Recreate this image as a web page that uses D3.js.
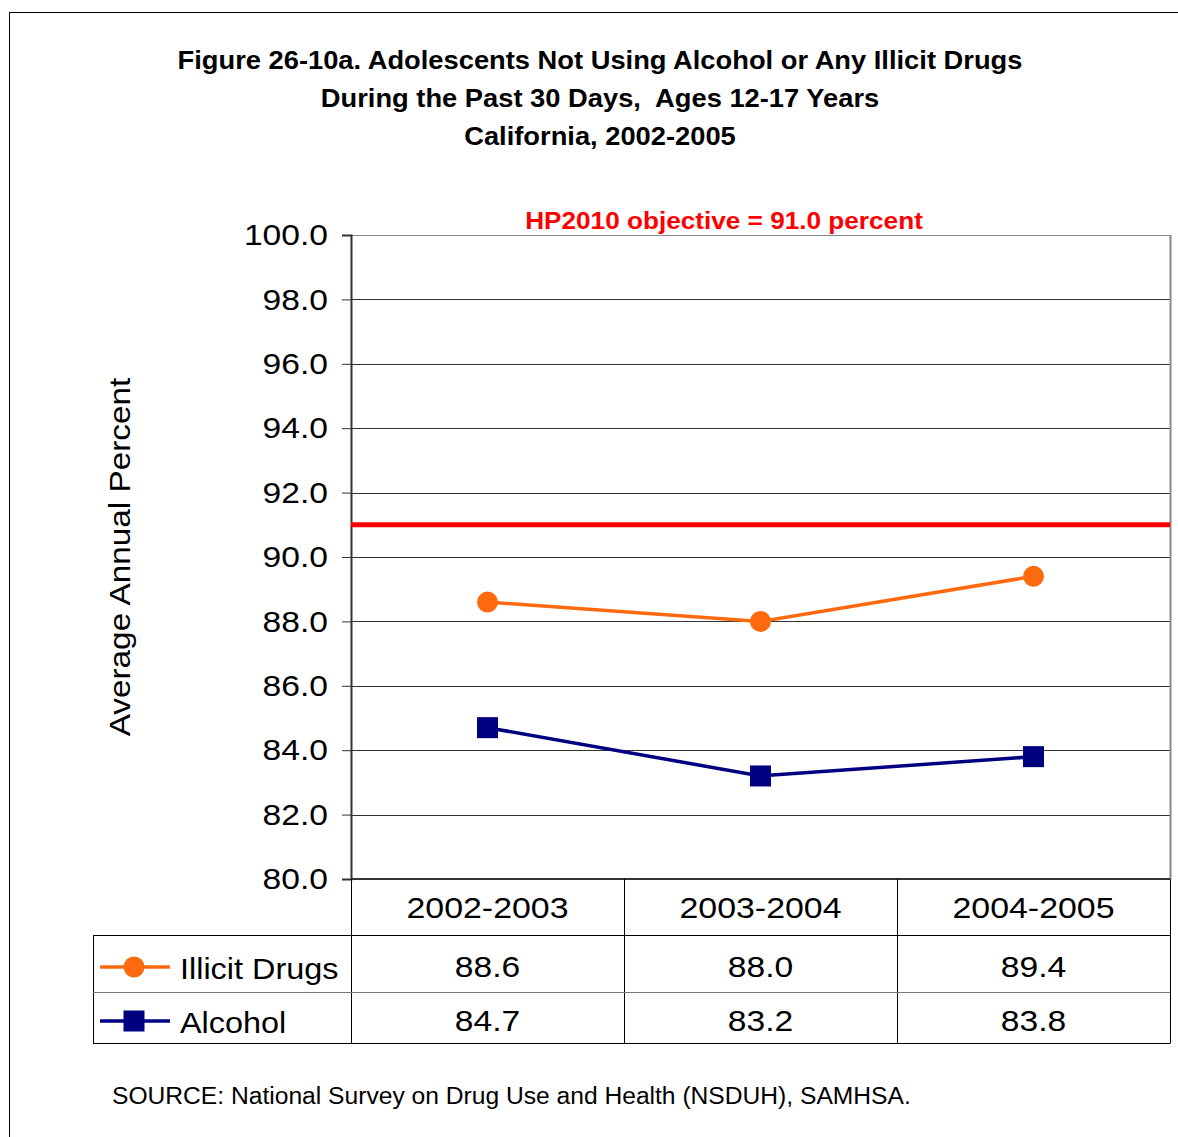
<!DOCTYPE html>
<html><head><meta charset="utf-8">
<script src="https://cdn.jsdelivr.net/npm/d3@7"></script>
<style>body{margin:0;background:#fff}svg{display:block}text{font-family:"Liberation Sans",Arial,sans-serif;white-space:pre}</style>
</head><body>
<svg id="c" width="1178" height="1137"></svg>
<script>
const categories = ["2002-2003","2003-2004","2004-2005"];
const illicit = [88.6, 88.0, 89.4];
const alcohol = [84.7, 83.2, 83.8];
const seriesNames = ["Illicit Drugs","Alcohol"];
const yTicks = [80,82,84,86,88,90,92,94,96,98,100];
const objective = 91.0;
const titleLines = ["Figure 26-10a. Adolescents Not Using Alcohol or Any Illicit Drugs","During the Past 30 Days,  Ages 12-17 Years","California, 2002-2005"];

const svg = d3.select("#c");
const L = 351, R = 1170, T = 235, B = 879;
const x = d3.scaleBand().domain(categories).range([L, R]);
const y = d3.scaleLinear().domain([80, 100]).range([B, T]);

function stretch(sel, k){
  sel.each(function(){
    const w = this.getComputedTextLength();
    d3.select(this).attr("textLength", w*k).attr("lengthAdjust","spacingAndGlyphs");
  });
}

// outer border
svg.append("rect").attr("x",9.5).attr("y",12.5).attr("width",1200).attr("height",1200)
  .attr("fill","none").attr("stroke","#000").attr("stroke-width",1);

// title
const tt = svg.append("g").selectAll("text").data(titleLines).join("text")
  .attr("x",600).attr("y",(d,i)=>69+i*38).attr("text-anchor","middle")
  .attr("font-size",26).attr("font-weight","bold").text(d=>d);
stretch(tt, 1.05);

// grid
svg.append("g").selectAll("line").data(yTicks).join("line")
  .attr("x1",L).attr("x2",R).attr("y1",d=>Math.round(y(d))+0.5).attr("y2",d=>Math.round(y(d))+0.5)
  .attr("stroke",d=>d===100?"#888":"#333").attr("stroke-width",1);
svg.append("line").attr("x1",R+0.5).attr("x2",R+0.5).attr("y1",T).attr("y2",B).attr("stroke","#888").attr("stroke-width",2);

// y axis
const ya = d3.axisLeft(y).tickValues(yTicks).tickFormat(d3.format(".1f")).tickSize(9).tickPadding(14);
const yg = svg.append("g").attr("transform",`translate(${L},0)`).call(ya);
yg.select(".domain").attr("stroke","#333").attr("stroke-width",2);
yg.selectAll(".tick line").attr("stroke","#333");
yg.selectAll(".tick text").attr("font-size",30).attr("fill","#000").attr("font-family","Liberation Sans, Arial, sans-serif");
stretch(yg.selectAll(".tick text"), 1.12);
svg.append("line").attr("x1",L).attr("x2",R).attr("y1",B).attr("y2",B).attr("stroke","#333").attr("stroke-width",2);

// y title
const yt = svg.append("text").attr("transform","translate(130,557) rotate(-90)").attr("text-anchor","middle")
  .attr("font-size",30).text("Average Annual Percent");
stretch(yt, 1.11);

// objective
svg.append("line").attr("x1",L).attr("x2",R).attr("y1",y(objective)).attr("y2",y(objective))
  .attr("stroke","#ff0000").attr("stroke-width",5);
const hp = svg.append("text").attr("x",724).attr("y",229).attr("text-anchor","middle").attr("font-size",24)
  .attr("font-weight","bold").attr("fill","#ff0000").text("HP2010 objective = 91.0 percent");
stretch(hp, 1.09);

const cx = d => x(d) + x.bandwidth()/2;
const line = d3.line().x((d,i)=>cx(categories[i])).y(d=>y(d));
const orange = "#ff6a0f", navy = "#000080";
svg.append("path").datum(illicit).attr("d",line).attr("fill","none").attr("stroke",orange).attr("stroke-width",3.5);
svg.append("path").datum(alcohol).attr("d",line).attr("fill","none").attr("stroke",navy).attr("stroke-width",3.5);
svg.append("g").selectAll("circle").data(illicit).join("circle")
  .attr("cx",(d,i)=>cx(categories[i])).attr("cy",d=>y(d)).attr("r",10.5).attr("fill",orange);
svg.append("g").selectAll("rect").data(alcohol).join("rect")
  .attr("x",(d,i)=>cx(categories[i])-10.5).attr("y",d=>y(d)-10.5).attr("width",21).attr("height",21).attr("fill",navy);

// data table
const rowBot = 1043, tL = 93;
const tg = svg.append("g");
[L, ...categories.map(c=>x(c)+x.bandwidth())].forEach((xx)=>{
  tg.append("line").attr("x1",Math.round(xx)+0.5).attr("x2",Math.round(xx)+0.5).attr("y1",B).attr("y2",rowBot).attr("stroke","#000");
});
tg.append("line").attr("x1",tL+0.5).attr("x2",tL+0.5).attr("y1",935).attr("y2",rowBot).attr("stroke","#000");
tg.append("line").attr("x1",tL).attr("x2",R).attr("y1",935.5).attr("y2",935.5).attr("stroke","#000");
tg.append("line").attr("x1",tL).attr("x2",R).attr("y1",992.5).attr("y2",992.5).attr("stroke","#777");
tg.append("line").attr("x1",tL).attr("x2",R+0.5).attr("y1",rowBot+0.5).attr("y2",rowBot+0.5).attr("stroke","#000");

const ct = tg.selectAll("text.cat").data(categories).join("text").attr("class","cat")
  .attr("x",d=>cx(d)).attr("y",918).attr("text-anchor","middle").attr("font-size",30).text(d=>d);
stretch(ct, 1.13);
[illicit, alcohol].forEach((arr,r)=>{
  const yy = r===0 ? 977 : 1031;
  const vt = tg.selectAll(null).data(arr).join("text").attr("x",(d,i)=>cx(categories[i])).attr("y",yy)
    .attr("text-anchor","middle").attr("font-size",30).text(d=>d.toFixed(1));
  stretch(vt, 1.12);
  const col = r===0?orange:navy, my = r===0?967:1021;
  tg.append("line").attr("x1",100).attr("x2",170).attr("y1",my).attr("y2",my).attr("stroke",col).attr("stroke-width",3.5);
  if(r===0) tg.append("circle").attr("cx",134).attr("cy",my).attr("r",10.5).attr("fill",col);
  else tg.append("rect").attr("x",123.5).attr("y",my-10.5).attr("width",21).attr("height",21).attr("fill",col);
  const lt = tg.append("text").attr("x",180).attr("y",yy+2).attr("font-size",30).text(seriesNames[r]);
  stretch(lt, 1.08);
});

const st = svg.append("text").attr("x",112).attr("y",1104).attr("font-size",23)
  .text("SOURCE: National Survey on Drug Use and Health (NSDUH), SAMHSA.");
stretch(st, 1.07);
</script>
</body></html>
